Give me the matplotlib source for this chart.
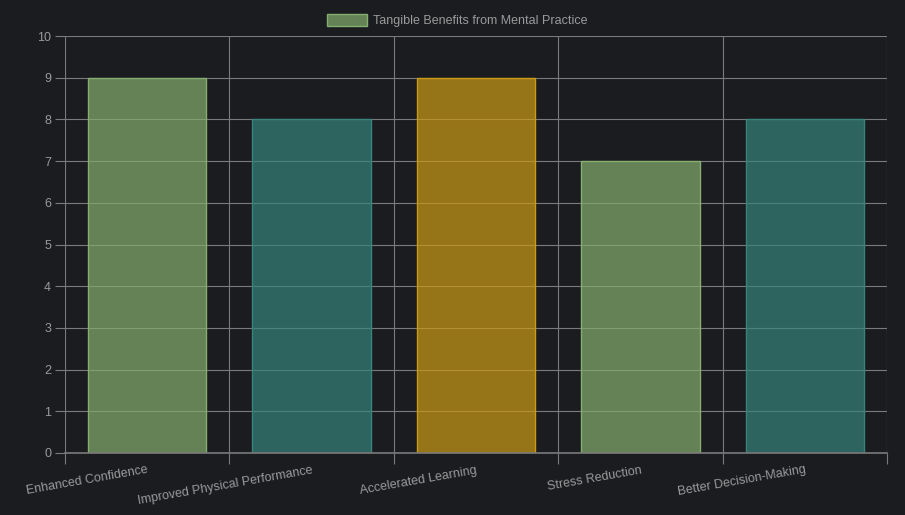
import numpy as np
import matplotlib.pyplot as plt
from matplotlib.patches import Patch

plt.rcParams['font.family'] = ['Liberation Sans', 'DejaVu Sans']

categories = ['Enhanced Confidence', 'Improved Physical Performance', 'Accelerated Learning',
              'Stress Reduction', 'Better Decision-Making']
values = [9, 8, 9, 7, 8]
series_label = 'Tangible Benefits from Mental Practice'

green = (133/255, 174/255, 111/255)
teal = (54/255, 132/255, 123/255)
gold = (204/255, 154/255, 21/255)
bar_colors = [green, teal, gold, green, teal]

bg = '#1b1c20'
grid_c = '#7a7a7a'
text_c = '#9a9a9a'

fig = plt.figure(figsize=(9.05, 5.15), dpi=100, facecolor=bg)
ax = fig.add_axes([0.0718, 0.1204, 0.9082, 0.8096])
ax.set_facecolor(bg)

x = np.arange(len(categories))
ax.bar(x, values, width=0.72, color=[c + (0.7,) for c in bar_colors],
       edgecolor=bar_colors, linewidth=1, zorder=3)
ax.axhline(0, color=grid_c, linewidth=1.2, zorder=4, clip_on=False)

ax.set_xlim(-0.5, len(categories) - 0.5)
ax.set_ylim(0, 10)
ax.set_yticks(range(0, 11))

# labels at centers, grid/ticks at category boundaries
ax.set_xticks(x)
ax.set_xticklabels(categories, rotation=10, ha='right', rotation_mode='anchor',
                   color=text_c, fontsize=9)
ax.set_xticks(np.arange(-0.5, len(categories)), minor=True)
ax.tick_params(axis='x', which='major', length=0, pad=8)
ax.tick_params(axis='x', which='minor', length=8, color=grid_c, width=0.8)
ax.tick_params(axis='y', length=7, color=grid_c, width=0.8, labelcolor=text_c, labelsize=9, pad=3)

ax.grid(True, axis='y', which='major', color=grid_c, linewidth=0.8, zorder=0)
ax.grid(True, axis='x', which='minor', color=grid_c, linewidth=0.8, zorder=0)
ax.set_axisbelow(True)
for s in ax.spines.values():
    s.set_visible(False)

handle = Patch(facecolor=green + (0.7,), edgecolor=green, linewidth=1)
fig.legend([handle], [series_label], loc='upper center', bbox_to_anchor=(0.505, 0.995),
           frameon=False, labelcolor=text_c, fontsize=9, handlelength=3.2, handleheight=1.1,
           handletextpad=0.5)

fig.savefig('out.png', dpi=100, facecolor=bg)
